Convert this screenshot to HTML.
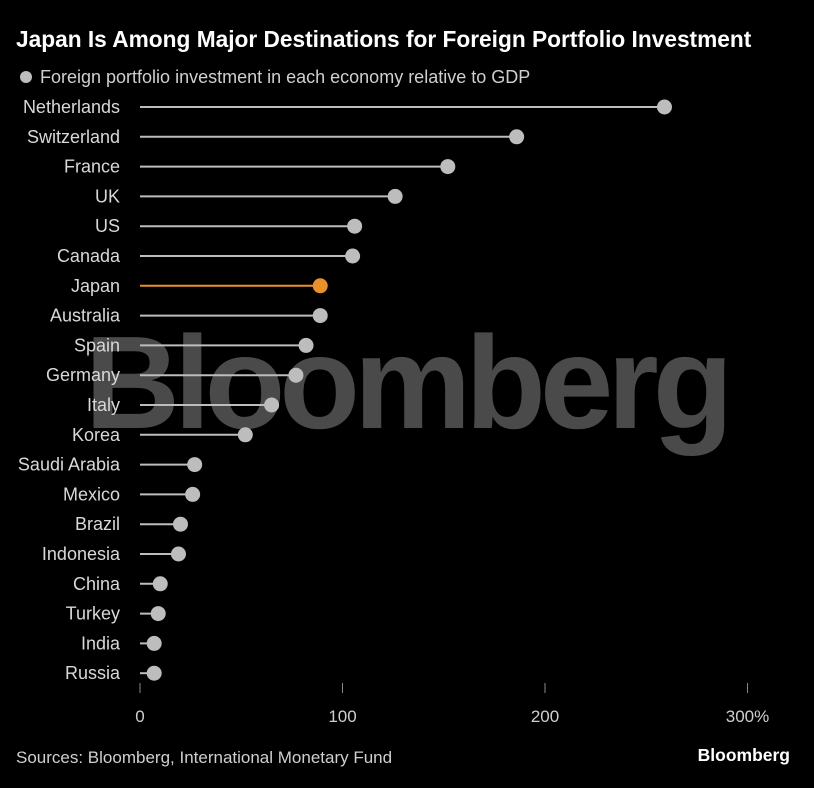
<!DOCTYPE html>
<html><head><meta charset="utf-8"><style>
html,body{margin:0;padding:0;background:#000;}
body{width:814px;height:783px;overflow:hidden;font-family:"Liberation Sans",sans-serif;}
</style></head><body>
<svg id="chart" width="814" height="783" xmlns="http://www.w3.org/2000/svg">
<text x="16" y="47" fill="#fff" font-size="22.7" font-weight="bold">Japan Is Among Major Destinations for Foreign Portfolio Investment</text>
<circle cx="26" cy="77" r="6" fill="#bdbdbd"/>
<text x="40" y="83" fill="#cfcfcf" font-size="18">Foreign portfolio investment in each economy relative to GDP</text>
<text x="406" y="428" fill="#4a4a4a" font-size="132" font-weight="bold" text-anchor="middle" letter-spacing="-6">Bloomberg</text>
<g id="axis"></g>
<g id="marks"></g>
<text x="16" y="763" fill="#cfcfcf" font-size="17">Sources: Bloomberg, International Monetary Fund</text>
<text x="790" y="761" fill="#fff" font-size="17.5" font-weight="bold" text-anchor="end">Bloomberg</text>
</svg>
<script>
const categories=["Netherlands","Switzerland","France","UK","US","Canada","Japan","Australia","Spain","Germany","Italy","Korea","Saudi Arabia","Mexico","Brazil","Indonesia","China","Turkey","India","Russia"];
const values=[259,186,152,126,106,105,89,89,82,77,65,52,27,26,20,19,10,9,7,7];
const highlight=["Japan"];
const ticks=[0,100,200,300];
const tickLabels=["0","100","200","300%"];
const NS="http://www.w3.org/2000/svg";
const x=v=>140+v*2.025;
const y=i=>107+i*29.8;
function mk(t,a,p){const e=document.createElementNS(NS,t);for(const k in a)e.setAttribute(k,a[k]);p.appendChild(e);return e;}
const ax=document.getElementById('axis'),mg=document.getElementById('marks');
ticks.forEach((t,i)=>{
 const l=mk('line',{x1:x(t),x2:x(t),y1:683,y2:693,stroke:'#888','stroke-width':1},ax);
 
 
 const tx=mk('text',{x:x(t),y:722,fill:'#cfcfcf','font-size':17,'text-anchor':'middle'},ax);
 tx.textContent=tickLabels[i];
 
 
});
categories.forEach((c,i)=>{
 const col=highlight.includes(c)?'#e8912b':'#bdbdbd';
 const lb=mk('text',{x:120,y:y(i)+6,fill:'#d8d8d8','font-size':18,'text-anchor':'end'},mg);
 lb.textContent=c;
 
 
 const ln=mk('line',{x1:x(0),x2:x(values[i]),y1:y(i),y2:y(i),stroke:col,'stroke-width':2},mg);
 
 
 const d=mk('circle',{cx:x(values[i]),cy:y(i),r:7.5,fill:col},mg);
 
 
});
</script>
</body></html>
